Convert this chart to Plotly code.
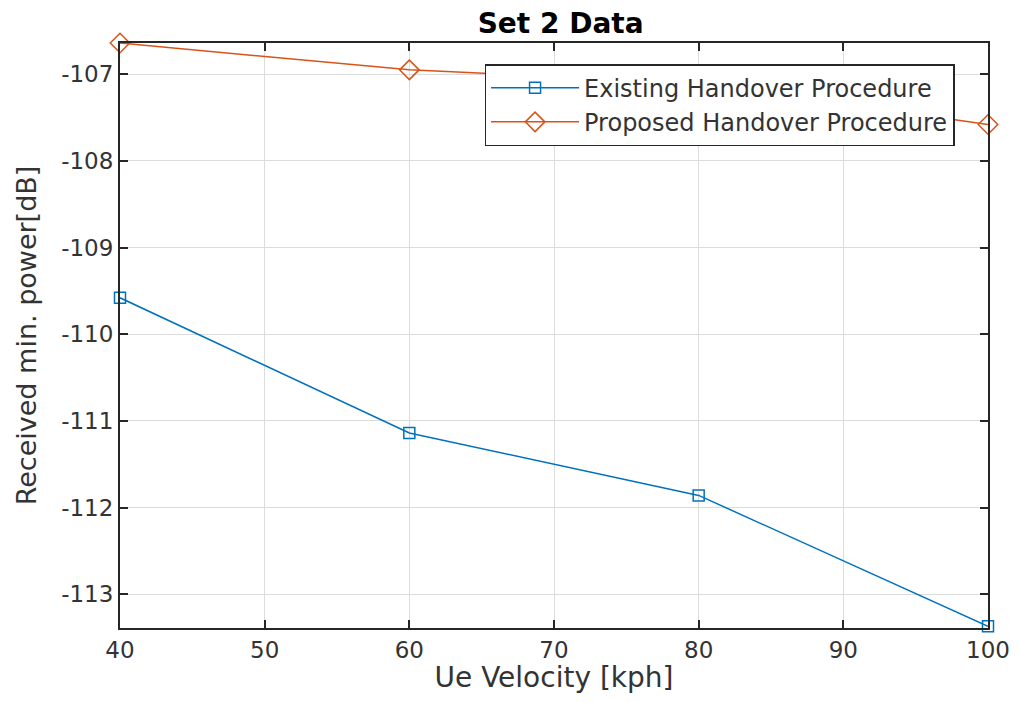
import plotly.graph_objects as go

velocity = [40, 60, 80, 100]
existing = [-109.58, -111.14, -111.86, -113.37]
proposed = [-106.64, -106.95, -107.10, -107.58]
x_ticks = [40, 50, 60, 70, 80, 90, 100]
y_ticks = [-113, -112, -111, -110, -109, -108, -107]
y_ticklabels = ["-113", "-112", "-111", "-110", "-109", "-108", "-107"]

fig = go.Figure()
fig.add_trace(go.Scatter(x=velocity, y=existing, mode="lines+markers",
                         name="Existing Handover Procedure",
                         line=dict(color="#0072BD", width=1.5),
                         marker=dict(symbol="square-open", size=11, color="#0072BD", line=dict(width=1.5)),
                         cliponaxis=False))
fig.add_trace(go.Scatter(x=velocity, y=proposed, mode="lines+markers",
                         name="Proposed Handover Procedure",
                         line=dict(color="#D95319", width=1.5),
                         marker=dict(symbol="diamond-open", size=15, color="#D95319", line=dict(width=1.5)),
                         cliponaxis=False))

axis_common = dict(showgrid=True, gridcolor="#DCDCDC", gridwidth=1,
                   showline=True, linecolor="#262626", linewidth=2, mirror="ticks",
                   ticks="inside", ticklen=8, tickcolor="#262626", tickwidth=1.5,
                   zeroline=False, ticklabeloverflow="allow", automargin=False,
                   tickfont=dict(family="DejaVu Sans", size=23, color="#333333"))

fig.update_layout(
    width=1003, height=686,
    paper_bgcolor="white", plot_bgcolor="white",
    margin=dict(l=112, r=23, t=35, b=66, autoexpand=False),
    title=dict(text="<b>Set 2 Data</b>", x=0.551, xanchor="center", y=0.992, yanchor="top",
               font=dict(family="DejaVu Sans", size=28, color="black")),
    xaxis=dict(range=[40, 100], tickvals=x_ticks,
               title=dict(text="Ue Velocity [kph]", font=dict(family="DejaVu Sans", size=28, color="#333333"), standoff=12),
               **axis_common),
    yaxis=dict(range=[-113.39, -106.64], tickvals=y_ticks, ticktext=y_ticklabels,
               title=dict(text="Received min. power[dB]", font=dict(family="DejaVu Sans", size=27, color="#333333"), standoff=17),
               **axis_common),
    legend=dict(x=0.42, y=0.964, xanchor="left", yanchor="top",
                bgcolor="white", bordercolor="#262626", borderwidth=1.5,
                font=dict(family="DejaVu Sans", size=24, color="#333333"),
                tracegroupgap=0, itemwidth=88),
    showlegend=True,
)

fig.write_html("out.html")
